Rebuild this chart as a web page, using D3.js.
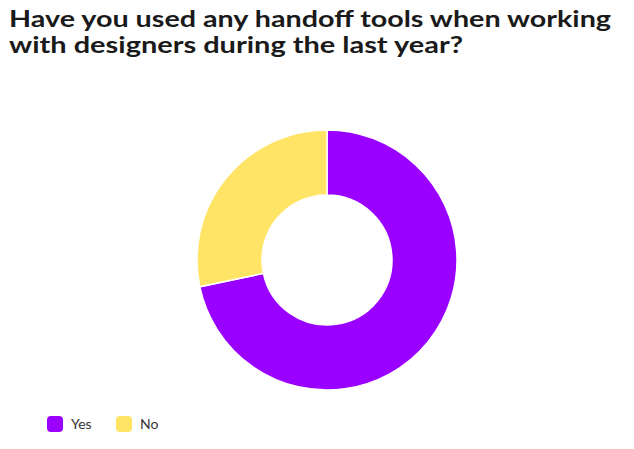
<!DOCTYPE html>
<html><head><meta charset="utf-8">
<script src="https://cdn.jsdelivr.net/npm/d3@7"></script>
<style>html,body{margin:0;padding:0;background:#fff;}</style>
</head><body>
<svg id="c" width="634" height="449"></svg>
<script>
const titleLines = ["Have you used any handoff tools when working", "with designers during the last year?"];
const categories = ["Yes", "No"];
const values = [71.7, 28.3];
const colors = ["#9900ff", "#ffe466"];

const svg = d3.select("#c");
const titleWidths = [602, 454];
const title = svg.append("text")
  .attr("font-family", "Lato, sans-serif").attr("font-weight", 700)
  .attr("font-size", 23.5).attr("fill", "#1a1a1a");
titleLines.forEach((t, i) => {
  title.append("tspan").attr("x", 9).attr("y", 26.5 + i * 26)
    .attr("textLength", titleWidths[i]).attr("lengthAdjust", "spacingAndGlyphs")
    .text(t);
});

const data = categories.map((c, i) => ({cat: c, val: values[i], color: colors[i]}));
const pie = d3.pie().value(d => d.val).sort(null);
const arc = d3.arc().innerRadius(65).outerRadius(130);
const g = svg.append("g").attr("transform", "translate(327,260)");
g.selectAll("path").data(pie(data)).join("path")
  .attr("d", arc).attr("fill", d => d.data.color)
  .attr("stroke", "#fff").attr("stroke-width", 1.5);

const legendX = d3.scalePoint().domain(categories).range([47, 116]);
const lg = svg.append("g");
const items = lg.selectAll("g").data(data).join("g")
  .attr("transform", d => `translate(${legendX(d.cat)},416)`);
items.append("rect").attr("width", 16).attr("height", 16).attr("rx", 4)
  .attr("fill", d => d.color);
items.append("text").attr("x", 24).attr("y", 13)
  .attr("font-family", "Lato, sans-serif").attr("font-size", 14)
  .attr("fill", "#333").text(d => d.cat);
</script>
</body></html>
